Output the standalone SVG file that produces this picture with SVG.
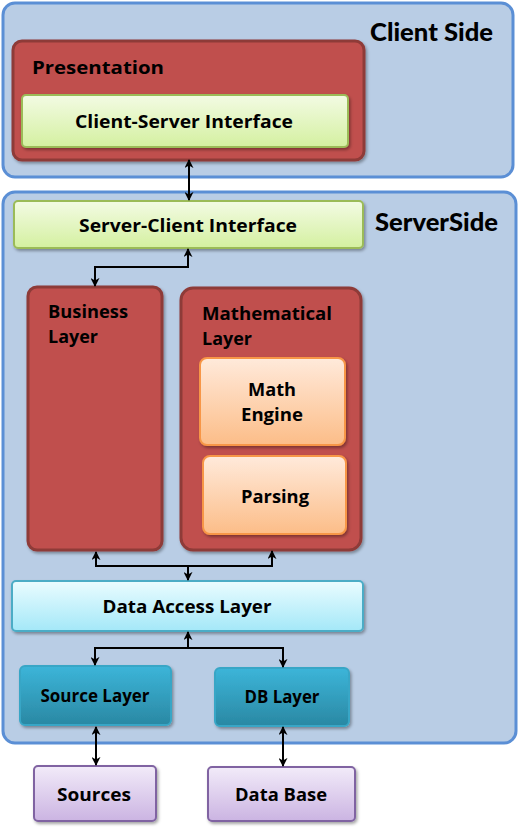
<svg xmlns="http://www.w3.org/2000/svg" width="520" height="833" viewBox="0 0 520 833">
<defs>
  <style>
    .cont { fill: #b9cde5; stroke: #5b8fd5; stroke-width: 3; }
    .red { fill: #c0504d; stroke: #8e3a38; stroke-width: 3; }
    .green { fill: url(#gGreen); stroke: #9bbb59; stroke-width: 2; }
    .orange { fill: url(#gOrange); stroke: #f79646; stroke-width: 2; }
    .cyan { fill: url(#gCyan); stroke: #4bacc6; stroke-width: 2; }
    .teal { fill: url(#gTeal); stroke: #38a6c6; stroke-width: 2; }
    .purple { fill: url(#gPurple); stroke: #8064a2; stroke-width: 2; }
    .t { font-family: "Open Sans", "DejaVu Sans", sans-serif; font-weight: bold; font-size: 18px; fill: #000; }
    .title { font-family: Lato, "Open Sans", sans-serif; font-weight: 900; font-size: 25px; fill: #000; }
    .conn { stroke: #000; stroke-width: 2; fill: none; }
  </style>
  <linearGradient id="gGreen" x1="0" y1="0" x2="0" y2="1">
    <stop offset="0" stop-color="#f3fbe4"/>
    <stop offset="1" stop-color="#d4f0a0"/>
  </linearGradient>
  <linearGradient id="gOrange" x1="0" y1="0" x2="0" y2="1">
    <stop offset="0" stop-color="#ffeadb"/>
    <stop offset="1" stop-color="#fcbd88"/>
  </linearGradient>
  <linearGradient id="gCyan" x1="0" y1="0" x2="0" y2="1">
    <stop offset="0" stop-color="#eafcff"/>
    <stop offset="1" stop-color="#a4e8f8"/>
  </linearGradient>
  <linearGradient id="gTeal" x1="0" y1="0" x2="0" y2="1">
    <stop offset="0" stop-color="#3cb5d9"/>
    <stop offset="1" stop-color="#2a88a3"/>
  </linearGradient>
  <linearGradient id="gPurple" x1="0" y1="0" x2="0" y2="1">
    <stop offset="0" stop-color="#f2ebf9"/>
    <stop offset="1" stop-color="#cbb4e2"/>
  </linearGradient>
  <filter id="sh" x="-10%" y="-10%" width="130%" height="130%">
    <feDropShadow dx="1.5" dy="2" stdDeviation="1.5" flood-color="#000" flood-opacity="0.35"/>
  </filter>
  <marker id="ah" viewBox="0 0 10 10" refX="9" refY="5" markerWidth="9" markerHeight="9" markerUnits="userSpaceOnUse" orient="auto-start-reverse">
    <path d="M0,0 L10,5 L0,10 L3,5 z" fill="#000"/>
  </marker>
</defs>

<g id="client-side">
  <rect class="cont" x="3" y="3" width="510" height="174" rx="12"/>
  <text class="title" x="370" y="41" textLength="123" lengthAdjust="spacingAndGlyphs">Client Side</text>
</g>

<g id="server-side">
  <rect class="cont" x="3" y="192" width="513" height="551" rx="12"/>
  <text class="title" x="375" y="231" textLength="123" lengthAdjust="spacingAndGlyphs">ServerSide</text>
</g>

<g id="presentation">
  <rect class="red" x="13" y="41" width="351" height="119" rx="9" filter="url(#sh)"/>
  <text class="t" x="32" y="74" font-size="19" textLength="132" lengthAdjust="spacingAndGlyphs">Presentation</text>
</g>

<g id="client-server-interface">
  <rect class="green" x="22" y="95" width="326" height="52" rx="4" filter="url(#sh)"/>
  <text class="t" x="184" y="128" text-anchor="middle" textLength="218" lengthAdjust="spacingAndGlyphs">Client-Server Interface</text>
</g>

<g id="server-client-interface">
  <rect class="green" x="14" y="201" width="349" height="47" rx="4" filter="url(#sh)"/>
  <text class="t" x="188" y="232" text-anchor="middle" textLength="218" lengthAdjust="spacingAndGlyphs">Server-Client Interface</text>
</g>

<g id="business-layer">
  <rect class="red" x="28" y="287" width="134" height="263" rx="9" filter="url(#sh)"/>
  <text class="t" x="48" y="318" textLength="80" lengthAdjust="spacingAndGlyphs">Business</text>
  <text class="t" x="48" y="343" textLength="50" lengthAdjust="spacingAndGlyphs">Layer</text>
</g>

<g id="mathematical-layer">
  <rect class="red" x="181" y="288" width="180" height="262" rx="12" filter="url(#sh)"/>
  <text class="t" x="202" y="320" textLength="130" lengthAdjust="spacingAndGlyphs">Mathematical</text>
  <text class="t" x="202" y="345" textLength="50" lengthAdjust="spacingAndGlyphs">Layer</text>
</g>

<g id="math-engine">
  <rect class="orange" x="200" y="358" width="145" height="87" rx="7" filter="url(#sh)"/>
  <text class="t" x="272" y="396" text-anchor="middle" textLength="48" lengthAdjust="spacingAndGlyphs">Math</text>
  <text class="t" x="272" y="421" text-anchor="middle" textLength="62" lengthAdjust="spacingAndGlyphs">Engine</text>
</g>

<g id="parsing">
  <rect class="orange" x="203" y="456" width="143" height="78" rx="7" filter="url(#sh)"/>
  <text class="t" x="275" y="503" text-anchor="middle" textLength="68" lengthAdjust="spacingAndGlyphs">Parsing</text>
</g>

<g id="data-access-layer">
  <rect class="cyan" x="12" y="581" width="351" height="50" rx="4" filter="url(#sh)"/>
  <text class="t" x="187" y="613" text-anchor="middle" textLength="169" lengthAdjust="spacingAndGlyphs">Data Access Layer</text>
</g>

<g id="source-layer">
  <rect class="teal" x="20" y="666" width="151" height="59" rx="5" filter="url(#sh)"/>
  <text class="t" x="95" y="702" text-anchor="middle" textLength="109" lengthAdjust="spacingAndGlyphs">Source Layer</text>
</g>

<g id="db-layer">
  <rect class="teal" x="215" y="668" width="134" height="58" rx="5" filter="url(#sh)"/>
  <text class="t" x="282" y="703" text-anchor="middle" textLength="75" lengthAdjust="spacingAndGlyphs">DB Layer</text>
</g>

<g id="sources">
  <rect class="purple" x="34" y="766" width="122" height="55" rx="4" filter="url(#sh)"/>
  <text class="t" x="94" y="801" text-anchor="middle" textLength="74" lengthAdjust="spacingAndGlyphs">Sources</text>
</g>

<g id="data-base">
  <rect class="purple" x="208" y="767" width="147" height="54" rx="4" filter="url(#sh)"/>
  <text class="t" x="281" y="801" text-anchor="middle" textLength="92" lengthAdjust="spacingAndGlyphs">Data Base</text>
</g>

<g id="connectors">
  <line class="conn" x1="189" y1="160" x2="189" y2="200" marker-start="url(#ah)" marker-end="url(#ah)"/>
  <path class="conn" d="M188,249 V267 H95 V286" marker-start="url(#ah)" marker-end="url(#ah)"/>
  <path class="conn" d="M96,552 V566 H272 V551" marker-start="url(#ah)" marker-end="url(#ah)"/>
  <line class="conn" x1="188" y1="566" x2="188" y2="580" marker-end="url(#ah)"/>
  <line class="conn" x1="188" y1="632" x2="188" y2="648" marker-start="url(#ah)"/>
  <path class="conn" d="M95,665 V648 H283 V667" marker-start="url(#ah)" marker-end="url(#ah)"/>
  <line class="conn" x1="96" y1="727" x2="96" y2="765" marker-start="url(#ah)" marker-end="url(#ah)"/>
  <line class="conn" x1="283" y1="727" x2="283" y2="766" marker-start="url(#ah)" marker-end="url(#ah)"/>
</g>
</svg>
